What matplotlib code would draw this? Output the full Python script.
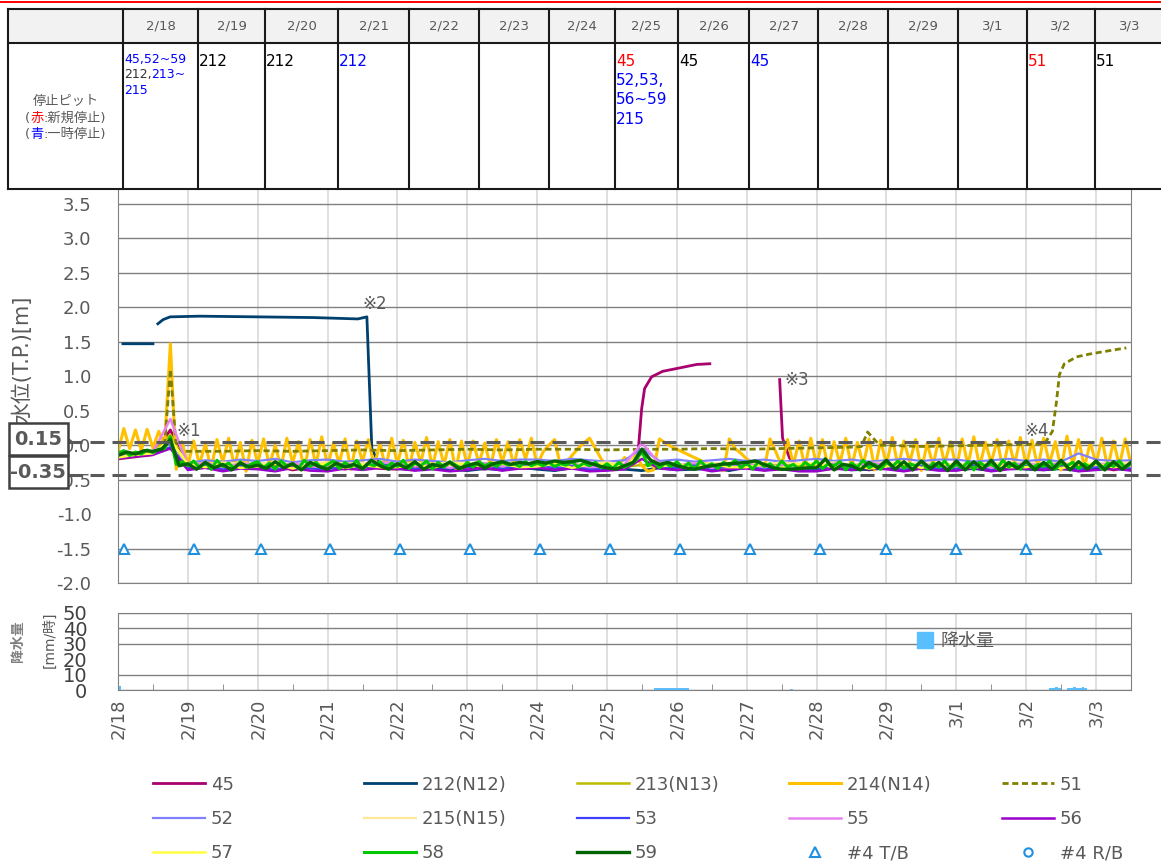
import numpy as np
import matplotlib.pyplot as plt
from matplotlib.lines import Line2D
from matplotlib.patches import Rectangle
from matplotlib.transforms import blended_transform_factory

plt.rcParams['font.family'] = ['DejaVu Sans', 'Noto Sans CJK JP']

GRAY = '#595959'
RED = '#ff0000'
BLUE = '#0000ff'
BLACK = '#000000'

W, H = 1161, 868

day_labels = ['2/18', '2/19', '2/20', '2/21', '2/22', '2/23', '2/24', '2/25',
              '2/26', '2/27', '2/28', '2/29', '3/1', '3/2', '3/3']

# time axes: hours since 2/18 0:00
t2 = np.arange(0, 349, 2)
t3 = np.arange(0, 349, 3)
t6 = np.arange(0, 349, 6)

# 214(N14), every 2 h
w214 = [-0.10, 0.24, -0.05, 0.22, -0.08, 0.23, -0.04, 0.20, 0.00, 1.47, -0.35, 0.05,
        -0.30, 0.06, -0.28, 0.02, -0.35, 0.08, -0.25, 0.10, -0.32, 0.04, -0.38, 0.07,
        -0.27, 0.09, -0.30, 0.00, -0.33, 0.10, -0.26, 0.05, -0.36, 0.08, -0.29, 0.12,
        -0.31, 0.03, -0.27, 0.09, -0.35, 0.06, -0.24, 0.08, -0.30, 0.02, -0.34, 0.10,
        -0.28, 0.07, -0.33, 0.04, -0.26, 0.11, -0.32, 0.05, -0.29, 0.08, -0.37, 0.06,
        -0.30, 0.06, -0.27, 0.03, -0.32, 0.08, -0.25, 0.05, -0.30, 0.08, -0.20, 0.10,
        -0.30, -0.10, 0.00, 0.08, -0.30, -0.25, -0.15, -0.05, 0.03, 0.10, -0.05, -0.20,
        -0.32, -0.36, -0.30, -0.18, -0.25, -0.15, -0.30, -0.38, -0.36, 0.09, 0.03, -0.02,
        -0.06, -0.10, -0.14, -0.18, -0.22, -0.26, -0.30, -0.33, -0.37, 0.09, -0.05, -0.12,
        -0.20, -0.26, -0.31, -0.35, 0.09, -0.10, -0.30, 0.08, -0.28, 0.06, -0.32, 0.10,
        -0.30, 0.08, -0.35, 0.05, -0.27, 0.10, -0.33, 0.04, -0.29, 0.09, -0.36, 0.07,
        -0.28, 0.11, -0.32, 0.06, -0.25, 0.08, -0.37, 0.03, -0.30, 0.10, -0.27, 0.05,
        -0.34, 0.09, -0.29, 0.12, -0.31, 0.04, -0.26, 0.08, -0.35, 0.06, -0.28, 0.11,
        -0.30, 0.07, -0.33, 0.10, -0.27, 0.05, -0.36, 0.13, -0.29, 0.08, -0.32, 0.04,
        -0.27, 0.10, -0.34, 0.06, -0.30, 0.09, -0.28]

# 58, every 2 h
w58 = [-0.12, -0.08, -0.15, -0.10, -0.13, -0.07, -0.11, -0.06, -0.05, 0.12, -0.28, -0.24,
       -0.30, -0.23, -0.33, -0.25, -0.35, -0.22, -0.31, -0.26, -0.34, -0.24, -0.32, -0.27,
       -0.24, -0.33, -0.26, -0.35, -0.23, -0.30, -0.27, -0.34, -0.22, -0.31, -0.25, -0.33,
       -0.28, -0.23, -0.34, -0.25, -0.32, -0.22, -0.35, -0.27, -0.30, -0.24, -0.33, -0.26,
       -0.31, -0.22, -0.34, -0.26, -0.30, -0.23, -0.35, -0.25, -0.32, -0.24, -0.29, -0.34,
       -0.25, -0.32, -0.24, -0.30, -0.26, -0.31, -0.25, -0.29, -0.27, -0.31, -0.24, -0.30,
       -0.26, -0.30, -0.25, -0.31, -0.27, -0.29, -0.24, -0.32, -0.26, -0.30, -0.25, -0.33,
       -0.27, -0.34, -0.25, -0.32, -0.28, -0.22, -0.08, -0.30, -0.24, -0.33, -0.26, -0.31,
       -0.24, -0.33, -0.26, -0.35, -0.23, -0.31, -0.27, -0.34, -0.25, -0.30, -0.22, -0.33,
       -0.26, -0.35, -0.24, -0.31, -0.27, -0.34, -0.23, -0.32, -0.28, -0.35, -0.25, -0.31,
       -0.23, -0.34, -0.27, -0.30, -0.24, -0.36, -0.26, -0.32, -0.22, -0.33, -0.28, -0.35,
       -0.25, -0.31, -0.23, -0.34, -0.27, -0.30, -0.24, -0.35, -0.26, -0.32, -0.23, -0.34,
       -0.28, -0.33, -0.24, -0.36, -0.25, -0.31, -0.27, -0.34, -0.22, -0.32, -0.26, -0.35,
       -0.24, -0.33, -0.28, -0.31, -0.23, -0.35, -0.26, -0.30, -0.25, -0.34, -0.27, -0.32,
       -0.24, -0.35, -0.26, -0.31, -0.23, -0.33, -0.27]

# 59, every 3 h
w59 = [-0.15, -0.10, -0.13, -0.08, -0.09, -0.06, 0.08, -0.30,
       -0.27, -0.35, -0.25, -0.33, -0.28, -0.36, -0.26, -0.32,
       -0.29, -0.34, -0.24, -0.33, -0.27, -0.36, -0.25, -0.31,
       -0.35, -0.26, -0.32, -0.28, -0.34, -0.22, -0.30, -0.35,
       -0.27, -0.33, -0.24, -0.35, -0.28, -0.31, -0.25, -0.34,
       -0.30, -0.26, -0.33, -0.27, -0.24, -0.28, -0.25, -0.27,
       -0.24, -0.26, -0.23, -0.25, -0.24, -0.22, -0.26, -0.30,
       -0.33, -0.35, -0.30, -0.25, -0.06, -0.22, -0.28, -0.25,
       -0.30, -0.33, -0.35, -0.32, -0.30, -0.28, -0.27, -0.26,
       -0.25, -0.23, -0.28, -0.33, -0.35, -0.35, -0.34, -0.33,
       -0.33, -0.20, -0.36, -0.28, -0.30, -0.36, -0.25, -0.33,
       -0.22, -0.35, -0.24, -0.36, -0.23, -0.34, -0.25, -0.37,
       -0.23, -0.36, -0.24, -0.35, -0.22, -0.37, -0.25, -0.34,
       -0.23, -0.36, -0.25, -0.35, -0.22, -0.36, -0.24, -0.35,
       -0.23, -0.36, -0.24, -0.35, -0.25]

# pits on a 6 h grid
w52 = [-0.13, -0.11, -0.09, 0.02, -0.26, -0.22, -0.24, -0.21, -0.23, -0.20, -0.25, -0.22,
       -0.21, -0.24, -0.22, -0.20, -0.24, -0.21, -0.23, -0.25, -0.22, -0.20, -0.23, -0.21,
       -0.21, -0.23, -0.20, -0.22, -0.24, -0.22, -0.05, -0.23, -0.21, -0.24, -0.22, -0.20,
       -0.23, -0.21, -0.24, -0.22, -0.20, -0.23, -0.21, -0.24, -0.22, -0.20, -0.23, -0.21,
       -0.21, -0.24, -0.22, -0.20, -0.23, -0.21, -0.24, -0.12, -0.21, -0.23, -0.22]
w53 = [-0.17, -0.15, -0.13, -0.03, -0.33, -0.29, -0.35, -0.30, -0.31, -0.36, -0.29, -0.34,
       -0.35, -0.30, -0.33, -0.28, -0.30, -0.35, -0.31, -0.34, -0.32, -0.29, -0.34, -0.30,
       -0.29, -0.33, -0.30, -0.35, -0.34, -0.31, -0.12, -0.30, -0.33, -0.29, -0.35, -0.31,
       -0.30, -0.34, -0.32, -0.36, -0.35, -0.30, -0.33, -0.29, -0.31, -0.36, -0.30, -0.34,
       -0.34, -0.29, -0.35, -0.31, -0.30, -0.33, -0.29, -0.35, -0.32, -0.30, -0.34]
w55 = [-0.15, -0.12, -0.10, 0.38, -0.30, -0.26, -0.32, -0.27, -0.28, -0.33, -0.26, -0.31,
       -0.32, -0.27, -0.30, -0.25, -0.27, -0.31, -0.28, -0.33, -0.29, -0.26, -0.31, -0.27,
       -0.26, -0.30, -0.27, -0.32, -0.31, -0.28, 0.03, -0.27, -0.30, -0.26, -0.33, -0.28,
       -0.27, -0.32, -0.29, -0.34, -0.32, -0.27, -0.30, -0.26, -0.28, -0.33, -0.27, -0.31,
       -0.31, -0.26, -0.33, -0.28, -0.27, -0.30, -0.26, -0.32, -0.29, -0.27, -0.31]
w56 = [-0.19, -0.16, -0.14, -0.05, -0.36, -0.33, -0.38, -0.34, -0.35, -0.38, -0.33, -0.37,
       -0.38, -0.34, -0.36, -0.33, -0.34, -0.37, -0.35, -0.38, -0.36, -0.33, -0.37, -0.34,
       -0.33, -0.36, -0.34, -0.38, -0.37, -0.35, -0.20, -0.34, -0.36, -0.33, -0.38, -0.35,
       -0.34, -0.37, -0.35, -0.38, -0.38, -0.34, -0.36, -0.33, -0.35, -0.38, -0.34, -0.37,
       -0.37, -0.33, -0.38, -0.35, -0.34, -0.36, -0.33, -0.38, -0.36, -0.34, -0.37]
w57 = [-0.18, -0.14, -0.12, 0.08, -0.28, -0.32, -0.27, -0.33, -0.31, -0.27, -0.34, -0.28,
       -0.27, -0.33, -0.29, -0.32, -0.32, -0.28, -0.33, -0.27, -0.28, -0.31, -0.27, -0.32,
       -0.31, -0.27, -0.33, -0.28, -0.27, -0.32, -0.10, -0.31, -0.28, -0.33, -0.27, -0.32,
       -0.32, -0.28, -0.33, -0.27, -0.27, -0.32, -0.28, -0.34, -0.31, -0.27, -0.33, -0.28,
       -0.28, -0.33, -0.27, -0.32, -0.32, -0.28, -0.34, -0.27, -0.28, -0.32, -0.29]
w213 = [-0.14, -0.12, -0.10, 0.15, -0.29, -0.31, -0.28, -0.30, -0.30, -0.28, -0.31, -0.29,
        -0.28, -0.30, -0.29, -0.31, -0.31, -0.29, -0.30, -0.28, -0.29, -0.30, -0.28, -0.31,
        -0.30, -0.28, -0.31, -0.29, -0.28, -0.31, -0.29, -0.30, -0.31, -0.29, -0.30, -0.28,
        -0.29, -0.31, -0.28, -0.30, -0.30, -0.28, -0.31, -0.29, -0.28, -0.30, -0.29, -0.31,
        -0.31, -0.29, -0.30, -0.28, -0.29, -0.31, -0.28, -0.30, -0.30, -0.28, -0.29]
w215 = [-0.12, -0.10, -0.09, 0.05, -0.26, -0.28, -0.25, -0.27, -0.27, -0.25, -0.28, -0.26,
        -0.25, -0.27, -0.26, -0.28, -0.28, -0.26, -0.27, -0.25, -0.26, -0.27, -0.25, -0.28,
        -0.27, -0.25, -0.28, -0.26, -0.25, -0.28, -0.15, -0.27, -0.28, -0.26, -0.27, -0.25,
        -0.26, -0.28, -0.25, -0.27, -0.27, -0.25, -0.28, -0.26, -0.25, -0.27, -0.26, -0.28,
        -0.28, -0.26, -0.27, -0.25, -0.26, -0.28, -0.25, -0.27, -0.27, -0.25, -0.26]

# 45: rises on 2/25, gap, falls back on 2/27
t45 = np.concatenate([np.arange(0, 175, 6),
                      [178.5, 179.9, 180.9, 183.3, 187.1, 193.0, 198.8, 203.3, 204.0,
                       227.3, 228.3, 230.7],
                      np.arange(234, 349, 6)])
w45 = [-0.20, -0.17, -0.14, 0.22, -0.33, -0.30, -0.35, -0.31, -0.34, -0.30, -0.36, -0.32,
       -0.31, -0.35, -0.30, -0.34, -0.35, -0.31, -0.33, -0.36, -0.32, -0.35, -0.30, -0.34,
       -0.33, -0.36, -0.31, -0.35, -0.32, -0.34,
       -0.19, 0.53, 0.82, 0.99, 1.07, 1.12, 1.17, 1.18, np.nan,
       0.95, 0.10, -0.19,
       -0.33, -0.30, -0.35, -0.32, -0.36, -0.31, -0.34, -0.30, -0.35, -0.33,
       -0.31, -0.36, -0.32, -0.34, -0.30, -0.35, -0.33, -0.31, -0.36, -0.32]

# 212(N12): high until the drop on 2/21
t212 = np.concatenate([[1.7, 12.0, 13.0, 13.7, 15.5, 17.9, 28, 48, 67, 82.4, 85.5, 87.2],
                       np.arange(90, 349, 6)])
w212 = [1.47, 1.47, np.nan, 1.76, 1.82, 1.86, 1.87, 1.86, 1.85, 1.83, 1.86, -0.05,
        -0.30, -0.34, -0.36, -0.33, -0.35, -0.37, -0.34, -0.36, -0.32, -0.35, -0.37,
        -0.33, -0.36, -0.34, -0.35, -0.37, -0.33, -0.36, -0.35, -0.34, -0.37, -0.32,
        -0.36, -0.34, -0.35, -0.37, -0.33, -0.36, -0.35, -0.34, -0.37, -0.33, -0.35,
        -0.36, -0.34, -0.37, -0.33, -0.35, -0.36, -0.34, -0.37, -0.35, -0.33, -0.36]

# 51: dashed, rises on 3/2
t51 = [0, 6, 12, 16, 18, 20, 22, 36, 48, 60, 72, 84, 96, 108, 120, 132, 144, 156, 168,
       180, 192, 204, 216, 228, 240, 252, 255.4, 257.5, 261.6, 276, 288, 300, 312,
       318.3, 321.0, 322.4, 323.4, 325.1, 329.3, 333.7, 340.6, 346.4]
w51 = [-0.10, -0.12, -0.10, 0.00, 1.10, -0.04, -0.09, -0.09, -0.08, -0.09, -0.08, -0.07,
       -0.08, -0.07, -0.06, -0.07, -0.06, -0.06, -0.07, -0.06, -0.06, -0.05, -0.06, -0.05,
       -0.04, -0.03, -0.02, 0.19, 0.00, -0.02, -0.01, 0.00, 0.01,
       0.02, 0.20, 0.63, 1.02, 1.18, 1.28, 1.32, 1.37, 1.41]

# #4 T/B
t_tb = [2, 26, 49, 73, 97, 121, 145, 169, 193, 217, 241, 264, 288, 312, 336]
w_tb = [-1.50, -1.50, -1.50, -1.50, -1.50, -1.50, -1.50, -1.50, -1.50, -1.50,
        -1.50, -1.50, -1.50, -1.50, -1.50]

# rain, mm/h
rain_t = [0, 184, 185, 186, 187, 188, 189, 190, 191, 192, 193, 194, 195, 231,
          320, 321, 322, 323, 326, 327, 328, 329, 330, 331, 332]
rain_mm = [2.5, 1.0, 1.0, 1.5, 1.0, 1.0, 1.5, 1.0, 1.0, 1.0, 1.5, 1.0, 1.0, 0.8,
           1.5, 1.5, 2.0, 1.5, 1.5, 1.5, 2.0, 1.5, 1.5, 2.0, 1.5]

threshold_labels = ['0.15', '-0.35']
threshold_levels = [0.05, -0.44]

notes = [('※1', 19.9, 0.20), ('※2', 83.8, 2.05), ('※3', 229.0, 0.94), ('※4', 311.4, 0.20)]

cell_notes = {
    0: [[('45,52~59', BLUE)], [('212,', '#333333'), ('213~', BLUE)], [('215', BLUE)]],
    1: [[('212', BLACK)]],
    2: [[('212', BLACK)]],
    3: [[('212', BLUE)]],
    7: [[('45', RED)], [('52,53,', BLUE)], [('56~59', BLUE)], [('215', BLUE)]],
    8: [[('45', BLACK)]],
    9: [[('45', BLUE)]],
    13: [[('51', RED)]],
    14: [[('51', BLACK)]],
}

series = [
    ('45', t45, w45, '#a8006e', 2.0, '-'),
    ('212(N12)', t212, w212, '#00406e', 2.0, '-'),
    ('213(N13)', t6, w213, '#bcbc00', 1.8, '-'),
    ('214(N14)', t2, w214, '#ffc000', 2.2, '-'),
    ('51', t51, w51, '#808000', 2.0, (0, (2.2, 1.3))),
    ('52', t6, w52, '#8080ff', 1.6, '-'),
    ('215(N15)', t6, w215, '#ffe699', 1.6, '-'),
    ('53', t6, w53, '#4040ff', 1.6, '-'),
    ('55', t6, w55, '#e882f0', 1.8, '-'),
    ('56', t6, w56, '#9900cc', 1.8, '-'),
    ('57', t6, w57, '#ffff40', 1.8, '-'),
    ('58', t2, w58, '#00c800', 2.2, '-'),
    ('59', t3, w59, '#006400', 2.4, '-'),
]

fig = plt.figure(figsize=(W / 100, H / 100), dpi=100)

def frac(x0, y0, x1, y1):
    return [x0 / W, 1 - y1 / H, (x1 - x0) / W, (y1 - y0) / H]

# ---- main water level chart ----
ax = fig.add_axes(frac(118, 190, 1131, 583))
handles = []
for name, tx, wy, col, lw, ls in series:
    h, = ax.plot(tx, wy, color=col, lw=lw, ls=ls, label=name)
    handles.append(h)
tb, = ax.plot(t_tb, w_tb, ls='', marker='^', mfc='white', mec='#1e90e0', ms=7, mew=1.5)

trans = blended_transform_factory(ax.transAxes, ax.transData)
for lev in threshold_levels:
    ax.plot([(68 - 118) / 1013, (W - 118) / 1013], [lev, lev], transform=trans,
            color=GRAY, lw=2.2, dashes=(4.6, 2.6), clip_on=False, zorder=6)

for txt, hx, hy in notes:
    ax.text(hx, hy, txt, color=GRAY, fontsize=12, va='center', ha='left', zorder=7)

ax.set_xlim(0, 348)
ax.set_ylim(-2.0, 3.7)
ax.set_yticks(np.arange(-2.0, 3.51, 0.5))
ax.set_yticklabels([f'{v:.1f}' for v in np.arange(-2.0, 3.51, 0.5)])
ax.set_xticks(np.arange(0, 337, 24))
ax.tick_params(axis='x', length=0, labelbottom=False)
ax.tick_params(axis='y', length=0, pad=19, labelsize=13, labelcolor=GRAY)
ax.grid(axis='y', color='#808080', lw=1.0)
ax.grid(axis='x', color='#d9d9d9', lw=1.2)
ax.set_axisbelow(True)
for s in ['left', 'right', 'bottom']:
    ax.spines[s].set_color('#808080')
ax.spines['top'].set_visible(False)

# ---- rain chart ----
ax2 = fig.add_axes(frac(118, 613, 1131, 690))
ax2.bar(rain_t, rain_mm, width=1, align='edge', color='#5abfff')
ax2.set_xlim(0, 348)
ax2.set_ylim(0, 50)
ax2.set_yticks([0, 10, 20, 30, 40, 50])
ax2.set_xticks(np.arange(0, 337, 24))
ax2.set_xticklabels(day_labels, rotation=90)
ax2.set_xticks(np.arange(12, 349, 24), minor=True)
ax2.tick_params(axis='x', which='major', length=0, pad=6, labelsize=13, labelcolor=GRAY)
ax2.tick_params(axis='x', which='minor', direction='in', length=4, color='#808080')
ax2.tick_params(axis='y', length=0, pad=22, labelsize=14, labelcolor='#404040')
ax2.grid(axis='y', color='#808080', lw=1.0)
ax2.grid(axis='x', which='major', color='#d9d9d9', lw=1.2)
ax2.get_ygridlines()[2].set_visible(False)
ax2.set_axisbelow(True)
for s in ax2.spines.values():
    s.set_color('#808080')

# ---- overlay in pixel units: table, boxes, labels ----
fax = fig.add_axes([0, 0, 1, 1], zorder=10)
fax.set_xlim(0, W)
fax.set_ylim(H, 0)
fax.axis('off')
fax.patch.set_alpha(0)

fax.plot([0, W], [1.5, 1.5], color=RED, lw=1.4, clip_on=False)

col_edges = [8, 123, 198, 265, 338, 409, 479, 549, 615, 678, 749, 818, 888, 958, 1027, 1095, 1165]
fax.add_patch(Rectangle((8, 9), 1157, 34, fc='#f2f2f2', ec='none', clip_on=False))
for yy in [9, 43, 189]:
    fax.plot([8, 1165], [yy, yy], color='#1a1a1a', lw=1.5, clip_on=False)
for xx in col_edges:
    fax.plot([xx, xx], [9, 189], color='#1a1a1a', lw=1.5, clip_on=False)
for i, lab in enumerate(day_labels):
    fax.text((col_edges[i + 1] + col_edges[i + 2]) / 2, 26, lab, color=GRAY,
             fontsize=9.5, ha='center', va='center', clip_on=False)

line_groups = []

def colored_line(x, y_center, parts, size, align='left'):
    base = y_center + 0.36 * size * 100 / 72
    ts = [fax.text(0, base, s, color=c, fontsize=size, va='baseline', ha='left')
          for s, c in parts]
    line_groups.append((ts, x, align))

for ci, lines in cell_notes.items():
    small = ci == 0
    size = 9 if small else 11
    y0, dy = (58, 15.5) if small else (60, 19.5)
    for k, parts in enumerate(lines):
        colored_line(col_edges[ci + 1] + 1, y0 + k * dy, parts, size)

colored_line(65.5, 100, [('停止ピット', GRAY)], 9.5, 'center')
colored_line(65.5, 117, [('(', GRAY), ('赤', RED), (':新規停止)', GRAY)], 9.5, 'center')
colored_line(65.5, 133, [('(', GRAY), ('青', BLUE), (':一時停止)', GRAY)], 9.5, 'center')

# axis titles
fax.text(22, 359, '水位(T.P.)[m]', rotation=90, color=GRAY, fontsize=15,
         ha='center', va='center')
fax.text(18, 641, '降水量', rotation=90, color='#7f7f7f', fontsize=10,
         fontweight='bold', ha='center', va='center')
fax.text(50, 640, '[mm/時]', rotation=90, color=GRAY, fontsize=10,
         ha='center', va='center')

# threshold boxes
for k, lab in enumerate(threshold_labels):
    top = 423 + 33 * k
    fax.add_patch(Rectangle((8.5, top), 59, 32, fc='white', ec='#404040', lw=1.8, zorder=3))
    fax.text(38, top + 16.5, lab, color=GRAY, fontsize=14, fontweight='bold',
             ha='center', va='center', zorder=4)

# ---- legends ----
rb = Line2D([], [], ls='', marker='o', mfc='white', mec='#1e90e0', ms=6, mew=1.5)
entries = handles + [tb, rb]
names = [s[0] for s in series] + ['#4 T/B', '#4 R/B']
col_x = [153, 364, 577, 789, 1002]
for c in range(5):
    idx = [c, c + 5, c + 10]
    fig.legend([entries[i] for i in idx], [names[i] for i in idx], loc='center left',
               bbox_to_anchor=(col_x[c] / W, 1 - 819 / H), frameon=False, fontsize=13,
               labelcolor=GRAY, handlelength=2.9, handletextpad=0.3, labelspacing=0.9,
               borderpad=0, borderaxespad=0, numpoints=1)

rain_handle = Line2D([], [], ls='', marker='s', color='#5abfff', ms=11.5)
fig.legend([rain_handle], ['降水量'], loc='center left', bbox_to_anchor=(914 / W, 1 - 641 / H),
           frameon=False, fontsize=13, labelcolor=GRAY, handlelength=1.2,
           handletextpad=0.25, borderpad=0, borderaxespad=0)

# place the multi-coloured text pieces
fig.canvas.draw()
for ts, x, align in line_groups:
    widths = [t.get_window_extent().width for t in ts]
    start = x - sum(widths) / 2 if align == 'center' else x
    for t, w in zip(ts, widths):
        t.set_x(start)
        start += w

fig.savefig('out.png', dpi=100)
